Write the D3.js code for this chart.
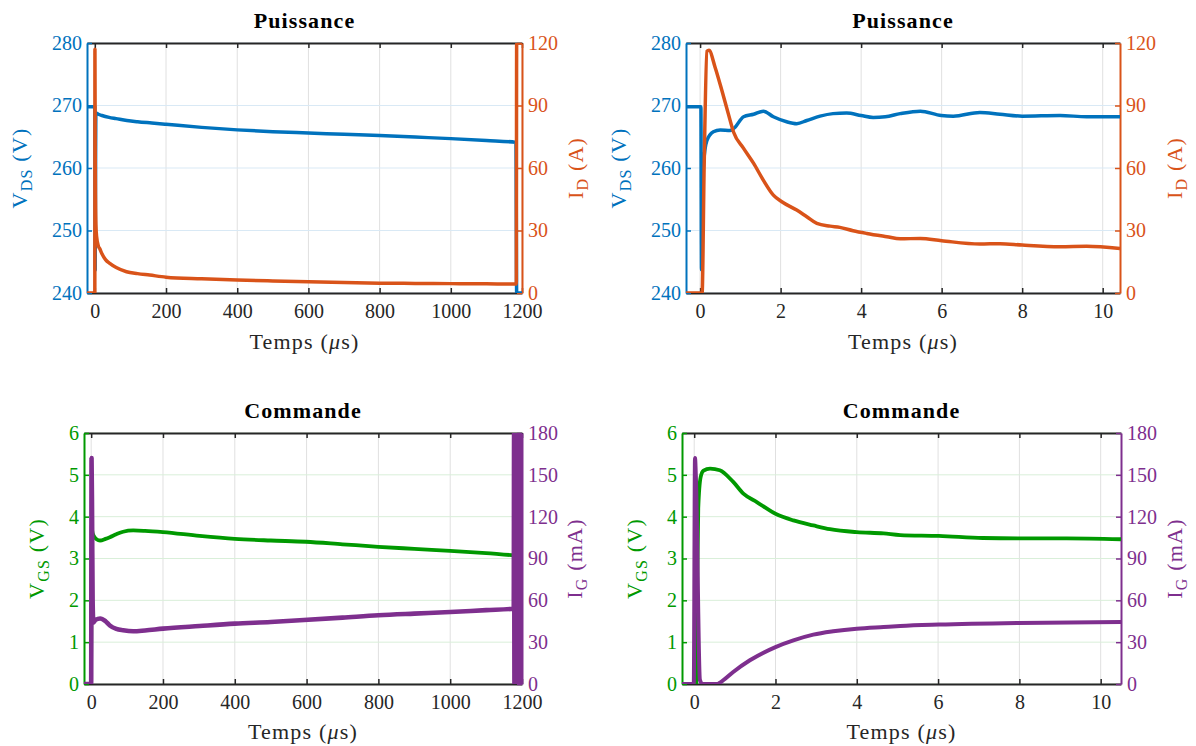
<!DOCTYPE html>
<html><head><meta charset="utf-8">
<script src="https://cdn.jsdelivr.net/npm/d3@7"></script>
<style>
body{margin:0;background:#fff;}
svg text{font-family:"Liberation Serif","Times New Roman",serif;}
</style></head><body>
<svg id="chart" width="1196" height="746"></svg>
<script>
// ---------- tick labels ----------
const tickLongTime = [0,200,400,600,800,1000,1200];
const tickShortTime = [0,2,4,6,8,10];
const tickVds = [240,250,260,270,280];
const tickId = [0,30,60,90,120];
const tickVgs = [0,1,2,3,4,5,6];
const tickIg = [0,30,60,90,120,150,180];

// ---------- series (time in µs, value) ----------
const vdsLong = [[-22,269.8],[0,269.8],[0.6,255],[1,243.7],[2,260],[3,268.8],[10,268.6],[20,268.4],[40,268.1],[60,267.9],[90,267.6],[120,267.4],[160,267.2],[200,267.0],[300,266.5],[400,266.1],[500,265.8],[600,265.6],[700,265.4],[800,265.2],[900,264.95],[1000,264.7],[1100,264.4],[1183,264.1],[1185,240],[1200,240]];
const idLong = [[-22,0],[0,0],[0.15,60],[0.3,117],[1,70],[2,44],[3,33],[5,27],[10,22.5],[14,21.2],[20,18.8],[30,16],[42,14.2],[60,12.2],[89,10.2],[120,9.3],[154,8.6],[200,7.6],[300,6.8],[400,6.2],[500,5.8],[600,5.4],[700,5.0],[800,4.7],[900,4.6],[1000,4.5],[1100,4.4],[1184,4.3],[1185,120],[1200,120]];

const vdsShort = [[-0.35,269.8],[0.02,269.8],[0.035,243.7],[0.08,260.2],[0.17,264.4],[0.33,265.8],[0.5,266.1],[0.75,266.0],[0.85,266.4],[1.08,268.2],[1.33,268.6],[1.57,269.1],[1.82,268.2],[2.15,267.4],[2.4,267.1],[2.65,267.6],[2.98,268.3],[3.3,268.7],[3.64,268.8],[4.0,268.4],[4.3,268.1],[4.6,268.2],[4.97,268.7],[5.47,269.1],[5.99,268.4],[6.29,268.3],[6.95,268.9],[7.45,268.6],[8.0,268.3],[8.94,268.4],[9.6,268.2],[10.43,268.2]];
const idShort = [[-0.35,0],[0.05,0],[0.1,60],[0.17,116],[0.22,116.5],[0.37,108.5],[0.54,97.3],[0.7,86.1],[0.83,77.3],[1.08,69.4],[1.33,62.2],[1.57,54.2],[1.82,47],[2.03,43.8],[2.4,39.8],[2.65,36.6],[2.9,33.4],[3.23,32.1],[3.47,31.5],[3.8,29.9],[4.14,28.6],[4.64,27],[4.97,26],[5.47,26.2],[6.0,25.1],[6.95,23.5],[7.45,23.7],[8.0,23],[8.94,22.2],[9.6,22.4],[10.43,21.4]];

const vgsLong = [[-20,0],[-0.5,0],[0.5,2],[1.5,3.8],[3,3.65],[6.5,3.55],[15,3.46],[24.7,3.43],[40,3.47],[52,3.51],[70,3.58],[89,3.64],[117,3.67],[150,3.66],[200,3.63],[302,3.54],[400,3.47],[500,3.43],[598,3.40],[700,3.34],[800,3.28],[900,3.23],[1000,3.18],[1100,3.13],[1180,3.08],[1186,6],[1200,6]];
const igLong = [[-20,0],[0,0],[1,162],[2.5,120],[4,60],[6,44],[12,46],[25,47],[40,45],[52,42],[70,39.5],[89,38.5],[117,37.8],[150,38.4],[200,39.7],[302,41.6],[400,43.3],[500,44.5],[581,45.7],[700,47.6],[800,49.3],[900,50.5],[1000,51.6],[1100,53],[1177,54],[1178,180],[1179,0],[1180,180],[1181,0],[1182,180],[1183,0],[1184,180],[1185,0],[1186,180],[1187,0],[1188,180],[1189,0],[1190,180],[1191,0],[1192,180],[1193,0],[1194,180],[1195,0],[1196,180],[1197,0],[1198,180],[1199,0],[1200,180]];

const vgsShort = [[-0.3,0],[0.05,0],[0.07,2],[0.1,4.2],[0.16,4.95],[0.23,5.1],[0.39,5.15],[0.63,5.11],[0.96,4.83],[1.21,4.55],[1.54,4.35],[2.0,4.07],[2.44,3.91],[2.93,3.79],[3.34,3.70],[4.0,3.63],[4.66,3.60],[5.07,3.56],[6.02,3.54],[7.1,3.49],[8.0,3.48],[9.16,3.48],[10.5,3.46]];
const igShort = [[-0.3,0],[-0.01,0],[0.02,162],[0.045,145],[0.14,3],[0.2,0],[0.55,0],[0.75,3.5],[0.96,8.6],[1.37,17],[2.0,26.5],[2.44,31.3],[2.93,35.4],[3.42,37.8],[4.0,39.7],[4.66,40.9],[5.07,41.6],[6.02,42.6],[8.0,43.8],[10.5,44.5]];

// ---------- styles ----------
const BLUE = "#0072BD", ORANGE = "#D95319", GREEN = "#009900", PURPLE = "#7E2F8E", AX = "#262626";
const FONT = '"Liberation Serif","Times New Roman",serif';

const panels = [
  {id:"p1", title:"Puissance", left:87, right:522, top:43, bottom:293, xDomain:[-22,1200], xTicks:tickLongTime,
   yLDomain:[240,280], yLTicks:tickVds, yRDomain:[0,120], yRTicks:tickId,
   colL:BLUE, colR:ORANGE, gridH:"#d9e9f5", dataL:vdsLong, dataR:idLong, wL:3.5, wR:3.5,
   labL:["V","DS"," (V)"], labR:["I","D"," (A)"], labLx:27, labRx:583, titleY:28, xlabY:349},
  {id:"p2", title:"Puissance", left:686, right:1120, top:43, bottom:293, xDomain:[-0.35,10.43], xTicks:tickShortTime,
   yLDomain:[240,280], yLTicks:tickVds, yRDomain:[0,120], yRTicks:tickId,
   colL:BLUE, colR:ORANGE, gridH:"#d9e9f5", dataL:vdsShort, dataR:idShort, wL:3.5, wR:3.5,
   labL:["V","DS"," (V)"], labR:["I","D"," (A)"], labLx:626, labRx:1182, titleY:28, xlabY:349},
  {id:"p3", title:"Commande", left:84, right:522, top:433, bottom:684, xDomain:[-20,1200], xTicks:tickLongTime,
   yLDomain:[0,6], yLTicks:tickVgs, yRDomain:[0,180], yRTicks:tickIg,
   colL:GREEN, colR:PURPLE, gridH:"#d9efd9", dataL:vgsLong, dataR:igLong, wL:3.8, wR:4.6,
   labL:["V","GS"," (V)"], labR:["I","G"," (mA)"], labLx:44, labRx:582, titleY:418, xlabY:739},
  {id:"p4", title:"Commande", left:682, right:1121, top:433, bottom:684, xDomain:[-0.3,10.5], xTicks:tickShortTime,
   yLDomain:[0,6], yLTicks:tickVgs, yRDomain:[0,180], yRTicks:tickIg,
   colL:GREEN, colR:PURPLE, gridH:"#d9efd9", dataL:vgsShort, dataR:igShort, wL:3.8, wR:4,
   labL:["V","GS"," (V)"], labR:["I","G"," (mA)"], labLx:642, labRx:1182, titleY:418, xlabY:739}
];

const svg = d3.select("#chart");
const defs = svg.append("defs");

function styleAxis(sel, color){
  sel.style("color", color);
  sel.selectAll("text").attr("font-size", 20).attr("font-family", FONT);
  sel.selectAll(".domain").attr("stroke-width", 2);
  sel.selectAll(".tick line").attr("stroke-width", 1.5);
}

function yLabel(g, x, y, parts, color){
  const t = g.append("text")
    .attr("transform", `translate(${x},${y}) rotate(-90)`)
    .attr("text-anchor", "middle").attr("fill", color)
    .attr("font-size", 22).attr("letter-spacing", 1.2);
  t.append("tspan").text(parts[0]);
  t.append("tspan").attr("dy", 5).attr("font-size", 16).text(parts[1]);
  t.append("tspan").attr("dy", -5).text(parts[2]);
}

panels.forEach(p => {
  const g = svg.append("g");
  const x = d3.scaleLinear().domain(p.xDomain).range([p.left, p.right]);
  const yL = d3.scaleLinear().domain(p.yLDomain).range([p.bottom, p.top]);
  const yR = d3.scaleLinear().domain(p.yRDomain).range([p.bottom, p.top]);

  // grid
  g.append("g").selectAll("line").data(p.xTicks).join("line")
    .attr("x1", d => x(d)).attr("x2", d => x(d)).attr("y1", p.top).attr("y2", p.bottom)
    .attr("stroke", "#e0e0e0").attr("stroke-width", 1);
  g.append("g").selectAll("line").data(p.yLTicks).join("line")
    .attr("x1", p.left).attr("x2", p.right).attr("y1", d => yL(d)).attr("y2", d => yL(d))
    .attr("stroke", p.gridH).attr("stroke-width", 1);

  // axes
  const ax = g.append("g").attr("transform", `translate(0,${p.bottom})`)
    .call(d3.axisBottom(x).tickValues(p.xTicks).tickSizeInner(-5).tickSizeOuter(0).tickPadding(11).tickFormat(d3.format("d")));
  styleAxis(ax, AX);
  const axT = g.append("g").attr("transform", `translate(0,${p.top})`)
    .call(d3.axisTop(x).tickValues(p.xTicks).tickSizeInner(-5).tickSizeOuter(0).tickFormat(""));
  styleAxis(axT, AX);
  const axL = g.append("g").attr("transform", `translate(${p.left},0)`)
    .call(d3.axisLeft(yL).tickValues(p.yLTicks).tickSizeInner(-5).tickSizeOuter(0).tickPadding(5).tickFormat(d3.format("d")));
  styleAxis(axL, p.colL);
  const axR = g.append("g").attr("transform", `translate(${p.right},0)`)
    .call(d3.axisRight(yR).tickValues(p.yRTicks).tickSizeInner(-5).tickSizeOuter(0).tickPadding(6).tickFormat(d3.format("d")));
  styleAxis(axR, p.colR);

  // clip
  defs.append("clipPath").attr("id", "clip-" + p.id).append("rect")
    .attr("x", p.left).attr("y", p.top).attr("width", p.right - p.left).attr("height", p.bottom - p.top);

  const lineL = d3.line().x(d => x(d[0])).y(d => yL(d[1])).curve(d3.curveMonotoneX);
  const lineR = d3.line().x(d => x(d[0])).y(d => yR(d[1])).curve(d3.curveMonotoneX);
  const dg = g.append("g").attr("clip-path", `url(#clip-${p.id})`);
  dg.append("path").datum(p.dataL).attr("d", lineL).attr("fill", "none")
    .attr("stroke", p.colL).attr("stroke-width", p.wL).attr("stroke-linejoin", "round");
  dg.append("path").datum(p.dataR).attr("d", lineR).attr("fill", "none")
    .attr("stroke", p.colR).attr("stroke-width", p.wR).attr("stroke-linejoin", "round");

  // title
  g.append("text").attr("x", (p.left + p.right) / 2).attr("y", p.titleY)
    .attr("text-anchor", "middle").attr("font-size", 22).attr("font-weight", "bold")
    .attr("letter-spacing", 1.1).attr("fill", "#000").text(p.title);

  // x label
  const xl = g.append("text").attr("x", (p.left + p.right) / 2).attr("y", p.xlabY)
    .attr("text-anchor", "middle").attr("font-size", 22).attr("letter-spacing", 1.2).attr("fill", AX);
  xl.append("tspan").text("Temps (");
  xl.append("tspan").attr("font-style", "italic").text("\u03BC");
  xl.append("tspan").text("s)");

  // y labels
  const cy = (p.top + p.bottom) / 2;
  yLabel(g, p.labLx, cy, p.labL, p.colL);
  yLabel(g, p.labRx, cy, p.labR, p.colR);
});
</script>
</body></html>
